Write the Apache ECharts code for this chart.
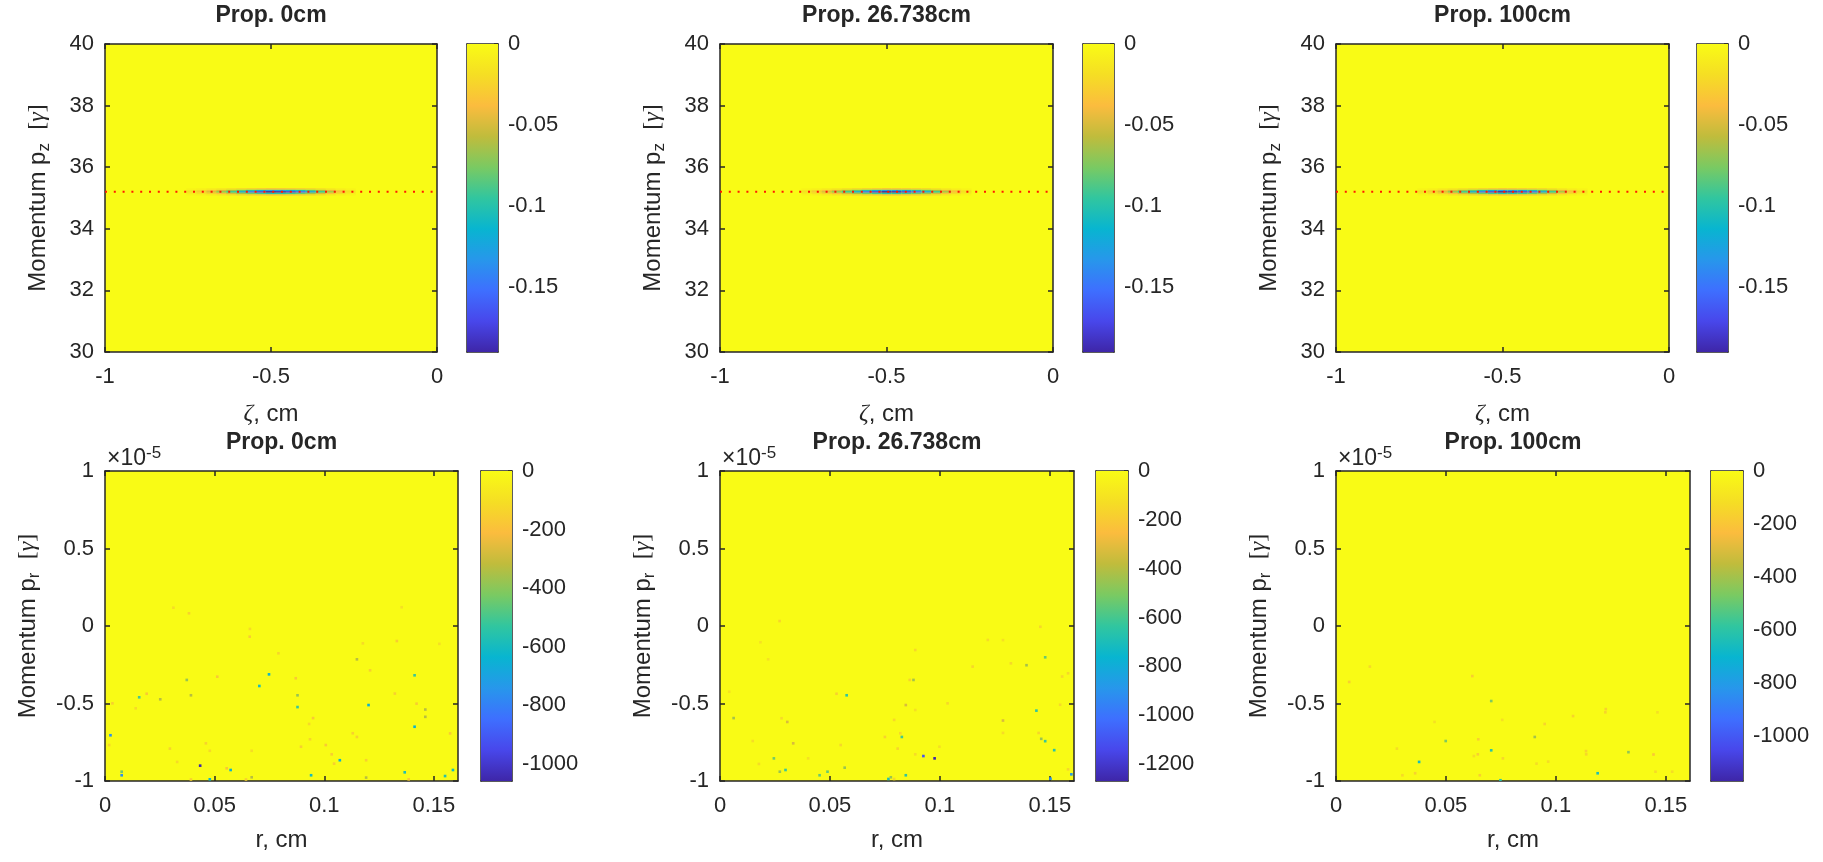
<!DOCTYPE html>
<html><head><meta charset="utf-8">
<script src="https://cdn.jsdelivr.net/npm/echarts@6/dist/echarts.min.js"></script>
<style>html,body{margin:0;padding:0;background:#fff}#c{width:1823px;height:862px}</style>
</head><body><div id="c"></div>
<script>
// ---------------- data ----------------
const titles = ['Prop. 0cm', 'Prop. 26.738cm', 'Prop. 100cm'];

// top row: longitudinal phase space (zeta, p_z)
const zetaTicks = [-1, -0.5, 0];
const pzTicks = [30, 32, 34, 36, 38, 40];
const topCbTicks = [0, -0.05, -0.1, -0.15];
const topClim = [-0.19, 0];
const refLinePz = 35.2;
const streakZeta = [-0.74, -0.71, -0.68, -0.65, -0.62, -0.59, -0.56, -0.53, -0.50, -0.47, -0.44, -0.41, -0.38, -0.35, -0.32, -0.29, -0.26];
const streakPz = [35.10, 35.15, 35.20, 35.25, 35.30];
const streakVals = [
  [-0.003, -0.005, -0.008, -0.011, -0.015, -0.019, -0.023, -0.027, -0.030, -0.029, -0.027, -0.024, -0.020, -0.015, -0.010, -0.006, -0.003],
  [-0.010, -0.016, -0.025, -0.037, -0.050, -0.064, -0.078, -0.090, -0.100, -0.097, -0.090, -0.080, -0.066, -0.050, -0.034, -0.020, -0.010],
  [-0.019, -0.030, -0.048, -0.070, -0.095, -0.122, -0.148, -0.171, -0.190, -0.184, -0.171, -0.152, -0.125, -0.095, -0.065, -0.038, -0.019],
  [-0.013, -0.021, -0.033, -0.048, -0.065, -0.083, -0.101, -0.117, -0.130, -0.126, -0.117, -0.104, -0.086, -0.065, -0.044, -0.026, -0.013],
  [-0.003, -0.005, -0.008, -0.011, -0.015, -0.019, -0.023, -0.027, -0.030, -0.029, -0.027, -0.024, -0.020, -0.015, -0.010, -0.006, -0.003]
];

// bottom row: transverse phase space (r, p_r), p_r in units of 1e-5
const rTicks = [0, 0.05, 0.1, 0.15];
const rMax = 0.161;
const prTicks = [-1, -0.5, 0, 0.5, 1];
const botClims = [[-1060, 0], [-1270, 0], [-1170, 0]];
const cbTicks0 = [0, -200, -400, -600, -800, -1000];
const cbTicks26 = [0, -200, -400, -600, -800, -1000, -1200];
const cbTicks100 = [0, -200, -400, -600, -800, -1000];

// [r (cm), p_r (x1e-5), value]
const dots0 = [
  [0.0748,-0.312,-620],[0.0704,-0.387,-600],[0.0156,-0.46,-500],[0.0373,-0.348,-380],[0.0252,-0.473,-330],
  [0.0392,-0.447,-330],[0.0878,-0.447,-380],[0.0878,-0.523,-520],[0.1202,-0.51,-640],[0.1149,-0.215,-330],
  [0.0025,-0.705,-760],[0.0076,-0.963,-760],[0.0076,-0.94,-430],[0.0434,-0.901,-1060],[0.0573,-0.929,-640],
  [0.0478,-0.989,-620],[0.0669,-0.976,-330],[0.094,-0.963,-600],[0.1071,-0.866,-640],[0.1191,-0.978,-330],
  [0.1412,-0.318,-520],[0.1412,-0.65,-640],[0.1461,-0.539,-330],[0.1461,-0.586,-330],[0.1367,-0.944,-580],
  [0.1551,-0.968,-560],[0.1587,-0.929,-600],
  [0.0312,0.118,-110],[0.0383,0.082,-140],[0.0661,-0.019,-120],[0.066,-0.069,-160],[0.0791,-0.176,-130],
  [0.0512,-0.327,-170],[0.087,-0.337,-170],[0.019,-0.437,-170],[0.0034,-0.499,-150],[0.014,-0.531,-120],
  [0.0949,-0.594,-170],[0.0931,-0.632,-120],[0.113,-0.692,-150],[0.1149,-0.716,-150],[0.0935,-0.731,-130],
  [0.1007,-0.768,-170],[0.0894,-0.779,-150],[0.046,-0.757,-140],[0.0296,-0.791,-140],[0.0019,-0.768,-130],
  [0.0329,-0.877,-120],[0.0478,-0.805,-120],[0.0555,-0.918,-180],[0.1034,-0.828,-160],[0.1045,-0.888,-160],
  [0.1191,-0.866,-150],[0.1209,-0.286,-150],[0.1176,-0.112,-120],[0.0669,-0.805,-110],[0.0392,-0.99,-150],
  [0.0643,-0.99,-150],[0.1331,-0.097,-160],[0.1322,-0.436,-150],[0.1421,-0.501,-160],[0.1574,-0.693,-160],
  [0.1353,0.121,-100],[0.1525,-0.115,-100],[0.1385,-0.989,-170]
];
const dots26 = [
  [0.0576,-0.447,-640],[0.0062,-0.594,-430],[0.0306,-0.619,-330],[0.0333,-0.757,-330],[0.088,-0.348,-430],
  [0.0845,-0.51,-330],[0.0827,-0.716,-600],[0.0245,-0.854,-520],[0.0272,-0.94,-450],[0.0298,-0.929,-620],
  [0.0453,-0.963,-540],[0.0489,-0.94,-540],[0.0567,-0.914,-450],[0.0766,-0.987,-680],[0.0777,-0.976,-450],
  [0.0845,-0.963,-640],[0.0925,-0.839,-1100],[0.0976,-0.854,-1270],
  [0.1479,-0.202,-540],[0.1394,-0.253,-430],[0.1439,-0.546,-640],[0.1461,-0.728,-450],[0.1479,-0.743,-620],
  [0.152,-0.801,-660],[0.1503,-0.985,-900],[0.1598,-0.957,-880],[0.1287,-0.61,-330],
  [0.0271,0.032,-160],[0.0888,-0.155,-150],[0.0863,-0.348,-170],[0.053,-0.437,-180],[0.1149,-0.262,-150],
  [0.1035,-0.499,-150],[0.0792,-0.606,-150],[0.075,-0.716,-170],[0.0808,-0.791,-160],[0.0549,-0.768,-150],
  [0.028,-0.595,-140],[0.0149,-0.742,-130],[0.0177,-0.89,-130],[0.0401,-0.854,-120],[0.0888,-0.828,-140],
  [0.0998,-0.779,-120],[0.1218,-0.09,-140],[0.0184,-0.105,-110],[0.0219,-0.215,-110],[0.0042,-0.424,-110],
  [0.0888,-0.542,-120],[0.082,-0.692,-150],[0.0792,-0.987,-150],[0.1457,-0.005,-150],[0.1287,-0.091,-120],
  [0.1323,-0.241,-150],[0.1583,-0.305,-150],[0.1556,-0.326,-150],[0.1547,-0.508,-140],[0.1449,-0.69,-160],
  [0.1287,-0.69,-140],[0.1583,-0.925,-150]
];
const dots100 = [
  [0.0706,-0.484,-460],[0.0499,-0.742,-460],[0.0706,-0.802,-600],[0.0378,-0.877,-660],[0.0904,-0.716,-400],
  [0.119,-0.95,-640],[0.0748,-0.995,-620],[0.133,-0.814,-430],
  [0.006,-0.361,-170],[0.0154,-0.262,-130],[0.062,-0.323,-170],[0.0647,-0.731,-170],[0.0645,-0.828,-170],
  [0.0759,-0.854,-140],[0.0949,-0.632,-150],[0.1078,-0.581,-150],[0.1225,-0.557,-150],[0.1138,-0.828,-140],
  [0.0965,-0.875,-120],[0.0654,-0.963,-170],[0.036,-0.95,-160],[0.0302,-0.963,-130],[0.0277,-0.791,-120],
  [0.0448,-0.619,-110],[0.0627,-0.839,-120],[0.0912,-0.888,-120],[0.0756,-0.606,-110],[0.1444,-0.829,-200],
  [0.1462,-0.557,-110],[0.1453,-0.94,-130],[0.1529,-0.94,-120],[0.1227,-0.536,-160],[0.1137,-0.807,-150]
];

// ---------------- styling / layout ----------------
const parula = ['#3E26A8','#4847EB','#3E6FFF','#2797EB','#08B5D0','#31C69F','#7ACA62','#C0BC3C','#FBBC3E','#F5DE24','#F9FB15'];
const FONT = '"Liberation Sans", Arial, Helvetica, sans-serif';
const SERIF = '"Liberation Serif", "DejaVu Serif", serif';
const TXT = '#262626';
const TICK_FS = 22, NAME_FS = 24, TITLE_FS = 23;

const layout = [
  { plot: [105, 44, 332, 308], cb: [467, 44, 31, 308] },
  { plot: [720, 44, 333, 308], cb: [1083, 44, 31, 308] },
  { plot: [1336, 44, 333, 308], cb: [1697, 44, 31, 308] },
  { plot: [105, 471, 353, 310], cb: [481, 471, 31, 310] },
  { plot: [720, 471, 354, 310], cb: [1096, 471, 32, 310] },
  { plot: [1336, 471, 354, 310], cb: [1711, 471, 32, 310] }
];

function buildStreak() {
  const out = [];
  streakPz.forEach((pz, j) => streakZeta.forEach((z, k) => out.push([z, pz, streakVals[j][k]])));
  return out;
}
const streakData = buildStreak();

const yNameRich = {
  a: { fontSize: NAME_FS, fontFamily: FONT, color: TXT, lineHeight: 30 },
  s: { fontSize: 17, fontFamily: FONT, color: TXT, lineHeight: 12, verticalAlign: 'bottom' },
  b: { fontSize: NAME_FS, fontFamily: SERIF, color: TXT, lineHeight: 30 },
  g: { fontSize: NAME_FS, fontFamily: SERIF, fontStyle: 'italic', color: TXT, lineHeight: 30 }
};

const panels = [];
for (let i = 0; i < 3; i++) {
  panels.push({
    x: [-1, 0], y: [30, 40], xTicks: zetaTicks, yTicks: pzTicks,
    xName: '{g|ζ}{a|, cm}', yName: '{a|Momentum p}{s|z}{a|  }{b|[}{g|γ}{b|]}',
    yGap: 52, xGap: 47, clim: topClim, cbTicks: topCbTicks,
    heat: streakData, dx: 0.03, dy: 0.05, ref: refLinePz, exp: false
  });
}
const botDots = [dots0, dots26, dots100];
const botCb = [cbTicks0, cbTicks26, cbTicks100];
for (let i = 0; i < 3; i++) {
  panels.push({
    x: [0, rMax], y: [-1, 1], xTicks: rTicks, yTicks: prTicks,
    xName: '{a|r, cm}', yName: '{a|Momentum p}{s|r}{a|  }{b|[}{g|γ}{b|]}',
    yGap: 62, xGap: 44, clim: botClims[i], cbTicks: botCb[i],
    heat: botDots[i], dx: 0.0012, dy: 0.017, ref: null, exp: true
  });
}

function fmt(v) { return String(Math.round(v * 1e6) / 1e6); }

function cellRenderer(dx, dy) {
  return function (params, api) {
    const x = api.value(0), y = api.value(1);
    const p0 = api.coord([x - dx / 2, y + dy / 2]);
    const p1 = api.coord([x + dx / 2, y - dy / 2]);
    return { type: 'rect', shape: { x: p0[0], y: p0[1], width: p1[0] - p0[0], height: p1[1] - p0[1] },
             style: { fill: api.visual('color') } };
  };
}

const gradStops = parula.map((c, k) => ({ offset: k / (parula.length - 1), color: parula[parula.length - 1 - k] }));

const lineStyleAx = { color: TXT, width: 1.5 };
function axisBase(gridIndex, min, max, pos) {
  return {
    gridIndex, type: 'value', min, max, position: pos, scale: true,
    axisLine: { show: true, onZero: false, lineStyle: lineStyleAx },
    axisTick: { show: false }, axisLabel: { show: false }, splitLine: { show: false },
    nameMoveOverlap: false
  };
}

const grid = [], xAxis = [], yAxis = [], series = [], visualMap = [], graphic = [];
panels.forEach((p, i) => {
  const L = layout[i];
  const gP = grid.length;
  grid.push({ left: L.plot[0], top: L.plot[1], width: L.plot[2], height: L.plot[3], show: true,
              backgroundColor: parula[parula.length - 1], borderWidth: 0, containLabel: false, outerBoundsMode: 'none' });
  const gC = grid.length;
  grid.push({ left: L.cb[0], top: L.cb[1], width: L.cb[2], height: L.cb[3], show: false, containLabel: false, outerBoundsMode: 'none' });

  const xi = xAxis.length, yi = yAxis.length;
  const xb = axisBase(gP, p.x[0], p.x[1], 'bottom');
  xb.axisTick = { show: true, inside: true, length: 5, customValues: p.xTicks, lineStyle: lineStyleAx };
  xb.axisLabel = { show: true, customValues: p.xTicks, formatter: fmt, color: TXT, fontSize: TICK_FS, fontFamily: FONT, margin: 14 };
  xb.name = p.xName; xb.nameLocation = 'middle'; xb.nameGap = p.xGap;
  xb.nameTextStyle = { rich: yNameRich };
  xAxis.push(xb);
  const xt = axisBase(gP, p.x[0], p.x[1], 'top');
  xt.axisTick = { show: true, inside: true, length: 5, customValues: p.xTicks, lineStyle: lineStyleAx };
  xAxis.push(xt);
  xAxis.push(axisBase(gC, 0, 1, 'bottom'));
  xAxis.push(axisBase(gC, 0, 1, 'top'));

  const yl = axisBase(gP, p.y[0], p.y[1], 'left');
  yl.axisTick = { show: true, inside: true, length: 5, customValues: p.yTicks, lineStyle: lineStyleAx };
  yl.axisLabel = { show: true, customValues: p.yTicks, formatter: fmt, color: TXT, fontSize: TICK_FS, fontFamily: FONT, margin: 11 };
  yl.name = p.yName; yl.nameLocation = 'middle'; yl.nameGap = p.yGap;
  yl.nameTextStyle = { rich: yNameRich };
  yAxis.push(yl);
  const yr = axisBase(gP, p.y[0], p.y[1], 'right');
  yr.axisTick = { show: true, inside: true, length: 5, customValues: p.yTicks, lineStyle: lineStyleAx };
  yAxis.push(yr);
  yAxis.push(axisBase(gC, p.clim[0], p.clim[1], 'left'));
  const cr = axisBase(gC, p.clim[0], p.clim[1], 'right');
  cr.axisTick = { show: true, inside: true, length: 4, customValues: p.cbTicks, lineStyle: lineStyleAx };
  cr.axisLabel = { show: true, customValues: p.cbTicks, formatter: fmt, color: TXT, fontSize: TICK_FS, fontFamily: FONT, margin: 10 };
  yAxis.push(cr);

  const heatIdx = series.length;
  series.push({
    type: 'custom', name: 'heat' + i, xAxisIndex: xi, yAxisIndex: yi, data: p.heat,
    encode: { x: 0, y: 1 }, renderItem: cellRenderer(p.dx, p.dy), clip: true, silent: true, z: 2
  });
  visualMap.push({ type: 'continuous', show: false, min: p.clim[0], max: p.clim[1], dimension: 2,
                   seriesIndex: heatIdx, inRange: { color: parula } });
  if (p.ref !== null) {
    series.push({
      type: 'line', xAxisIndex: xi, yAxisIndex: yi, data: [[p.x[0], p.ref], [p.x[1], p.ref]],
      symbol: 'none', silent: true, z: 3, clip: true,
      lineStyle: { color: '#ff1a00', width: 2, type: [2, 6.8] }
    });
  }
  series.push({
    type: 'custom', xAxisIndex: xi + 2, yAxisIndex: yi + 2, data: [[0, p.clim[0], p.clim[1]]],
    encode: { x: 0, y: [1, 2] }, silent: true, z: 1,
    renderItem: function (params, api) {
      const a = api.coord([0, api.value(2)]);
      const b = api.coord([1, api.value(1)]);
      return { type: 'rect', shape: { x: a[0], y: a[1], width: b[0] - a[0], height: b[1] - a[1] },
               style: { fill: new echarts.graphic.LinearGradient(0, 0, 0, 1, gradStops) } };
    }
  });

  graphic.push({
    type: 'text', x: L.plot[0] + L.plot[2] / 2, y: i < 3 ? 16 : 443, silent: true,
    style: { text: titles[i % 3], fill: TXT, font: 'bold ' + TITLE_FS + 'px ' + FONT, align: 'center', verticalAlign: 'middle' }
  });
  if (p.exp) {
    graphic.push({
      type: 'text', x: L.plot[0] + 2, y: 459, silent: true,
      style: { text: '{a|×10}{s|-5}', align: 'left', verticalAlign: 'middle',
               rich: { a: { fontSize: 23, fontFamily: FONT, fill: TXT, color: TXT, lineHeight: 28 },
                       s: { fontSize: 17, fontFamily: FONT, fill: TXT, color: TXT, lineHeight: 12, verticalAlign: 'top' } } }
    });
  }
});

const chart = echarts.init(document.getElementById('c'), null, { renderer: 'canvas' });
chart.setOption({
  backgroundColor: '#ffffff',
  animation: false,
  grid, xAxis, yAxis, series, visualMap, graphic
});
</script>
</body></html>
